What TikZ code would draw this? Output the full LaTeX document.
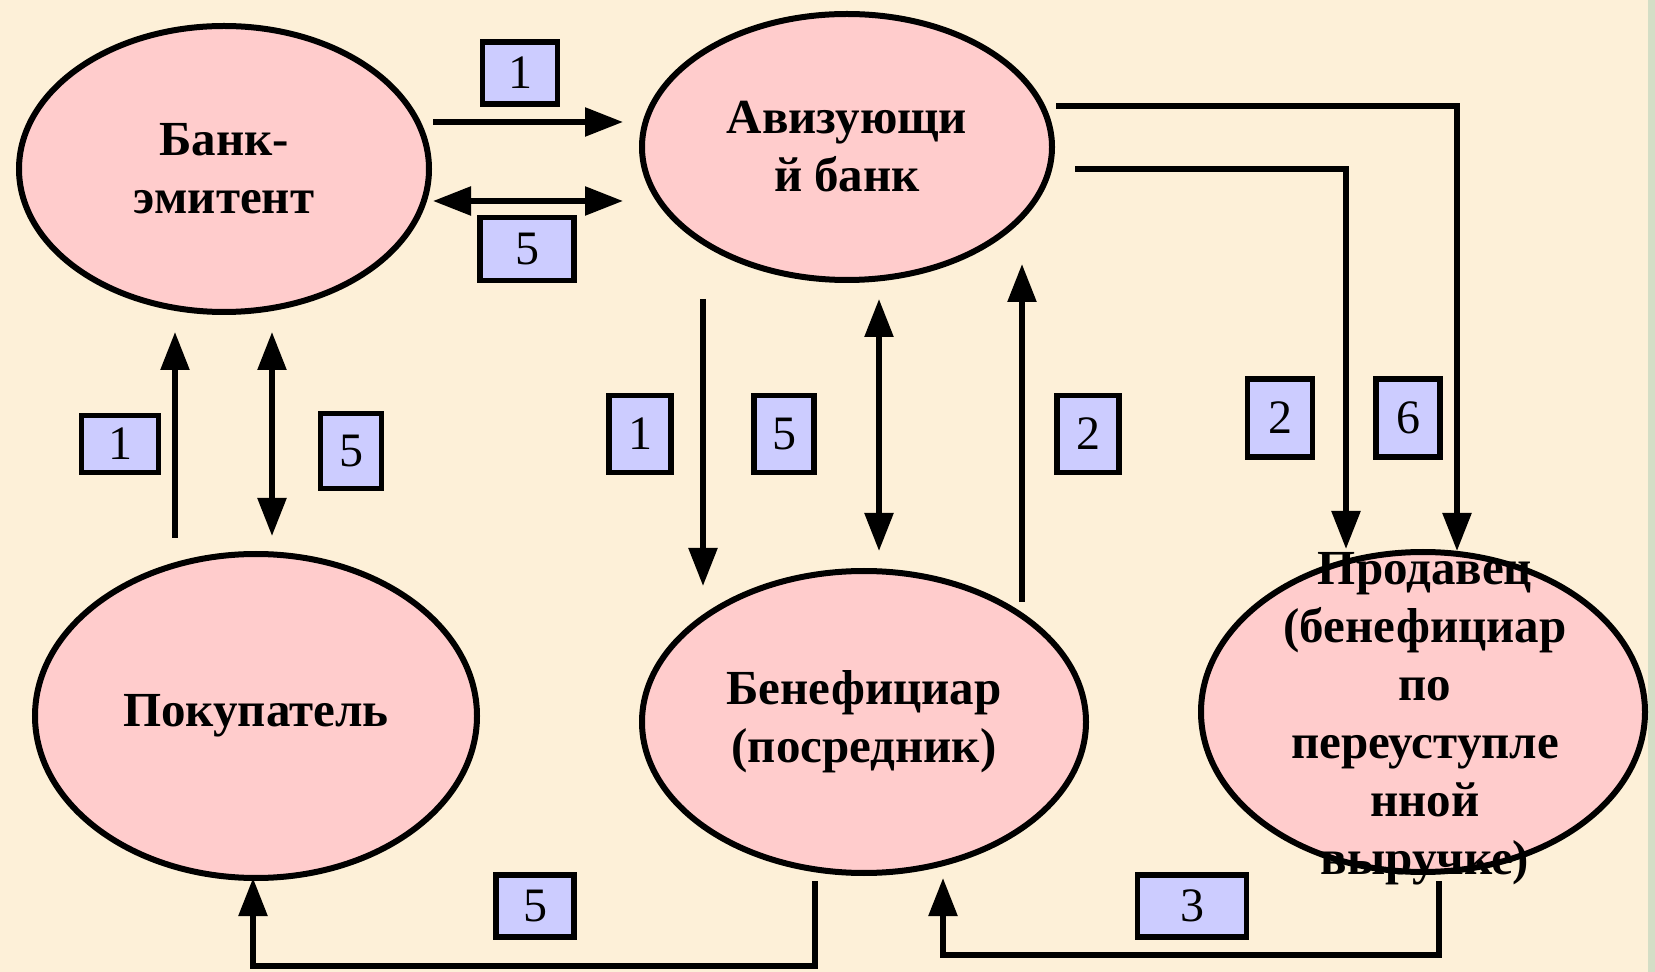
\documentclass[tikz,border=0pt]{standalone}
\usepackage{fontspec}
\setmainfont{Liberation Serif}
\usetikzlibrary{arrows.meta,shapes.geometric}

\definecolor{bgcream}{RGB}{253,240,216}
\definecolor{edgegreen}{RGB}{212,222,198}
\definecolor{ovalpink}{RGB}{255,204,204}
\definecolor{numblue}{RGB}{204,204,255}

\tikzset{
  party/.style={ellipse, draw=black, line width=3pt, fill=ovalpink, inner sep=0pt,
    font=\fontsize{24.5}{29}\selectfont\bfseries, align=center},
  partytext/.style={font=\fontsize{24.5}{29}\selectfont\bfseries, align=center, inner sep=0pt},
  numbox/.style={draw=black, line width=2.6pt, fill=numblue, inner sep=0pt,
    font=\fontsize{24}{28}\selectfont},
  flow/.style={line width=2.8pt, -{Triangle[length=19pt,width=14pt]}},
  flowboth/.style={line width=2.8pt, {Triangle[length=19pt,width=14pt]}-{Triangle[length=19pt,width=14pt]}},
}

\begin{document}
\begin{tikzpicture}[x=0.5pt,y=-0.5pt]
\useasboundingbox (0,0) rectangle (1655,972);
\fill[bgcream] (0,0) rectangle (1655,972);
\fill[edgegreen] (1648,0) rectangle (1655,972);

% participants
\node[party, minimum width=205pt, minimum height=143pt] (emitent) at (224,169) {Банк-\\эмитент};
\node[party, minimum width=205pt, minimum height=133pt] (aviz) at (847,147) {Авизующи\\й банк};
\node[party, minimum width=221pt, minimum height=162pt] (buyer) at (256,716) {Покупатель};
\node[party, minimum width=222pt, minimum height=151pt] (benef) at (864,722) {Бенефициар\\(посредник)};
\node[party, minimum width=222pt, minimum height=160pt] (seller) at (1423,712) {};
\node[partytext] (sellertext) at (1425,719) {Продавец\\(бенефициар\\по\\переуступле\\нной\\выручке)};

% arrow ends
\coordinate (top1s) at (433,122);
\coordinate (top1e) at (623,122);
\coordinate (top5s) at (433,201);
\coordinate (top5e) at (623,201);
\coordinate (left1s) at (175,538);
\coordinate (left1e) at (175,332);
\coordinate (left5s) at (272,332);
\coordinate (left5e) at (272,536);
\coordinate (mid1s) at (703,299);
\coordinate (mid1e) at (703,586);
\coordinate (mid5s) at (879,299);
\coordinate (mid5e) at (879,551);
\coordinate (mid2s) at (1022,602);
\coordinate (mid2e) at (1022,264);
\coordinate (right2s) at (1075,169);
\coordinate (right2e) at (1346,549);
\coordinate (right6s) at (1056,106);
\coordinate (right6e) at (1457,551);
\coordinate (bot5s) at (815,881);
\coordinate (bot5e) at (253,878);
\coordinate (bot3s) at (1439,881);
\coordinate (bot3e) at (943,878);

\draw[flow] (top1s) -- (top1e);
\draw[flowboth] (top5s) -- (top5e);
\draw[flow] (left1s) -- (left1e);
\draw[flowboth] (left5s) -- (left5e);
\draw[flow] (mid1s) -- (mid1e);
\draw[flowboth] (mid5s) -- (mid5e);
\draw[flow] (mid2s) -- (mid2e);
\draw[flow] (right2s) -| (right2e);
\draw[flow] (right6s) -| (right6e);
\draw[flow] (bot5s) -- ++(0,85) -| (bot5e);
\draw[flow] (bot3s) -- ++(0,74) -| (bot3e);

% step numbers
\foreach \x/\y/\w/\h/\n [count=\k] in {520/73/37.5/31/1, 527/249/47/31.5/5, 120/444/38.5/28.5/1,
    351/451/30.5/37.5/5, 640/434/31/38.5/1, 784/434/30/38.5/5, 1088/434/31/38.5/2,
    1280/418/32.5/39/2, 1408/418/32/39/6, 535/906/39/31/5, 1192/906/54.5/31/3}{
	\node[numbox, minimum width=\w pt, minimum height=\h pt] (num\k) at (\x,\y) {\n};
}
\end{tikzpicture}
\end{document}
